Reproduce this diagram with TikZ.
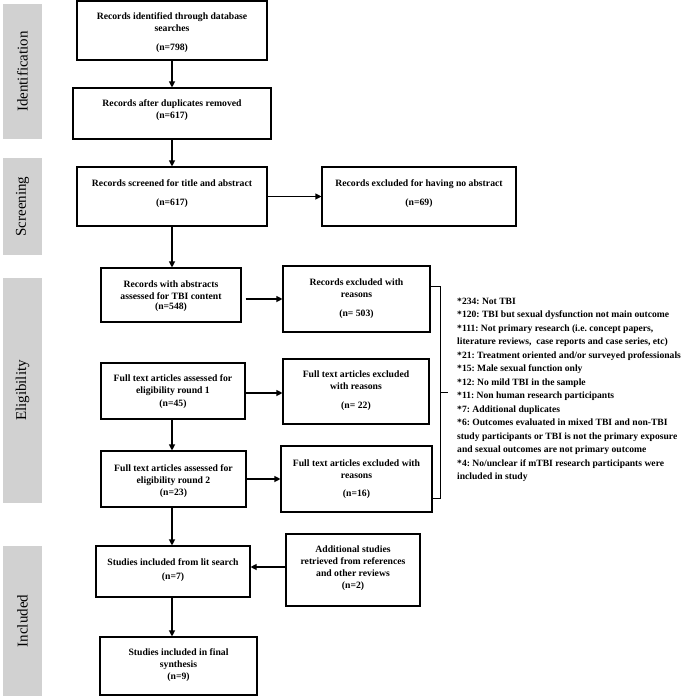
\documentclass[tikz,border=0pt]{standalone}
\usepackage{fontspec}
\setmainfont{Liberation Serif}
\usetikzlibrary{arrows.meta}
\frenchspacing
\begin{document}
\begin{tikzpicture}[x=1pt,y=-1pt,
  box/.style={draw=black,line width=1.1pt,rectangle,inner sep=0pt},
  txt/.style={font=\fontsize{9.7}{12}\selectfont\bfseries,align=center,anchor=north,inner sep=0pt},
  side/.style={fill=black!18,draw=none,inner sep=0pt},
  sidetxt/.style={font=\fontsize{15}{15}\selectfont,rotate=90,inner sep=0pt},
  arr/.style={line width=1.1pt,-{Triangle[length=6pt,width=6pt]}}]
\useasboundingbox (0,0) rectangle (685,696);
% side labels
\node[side,minimum width=39pt,minimum height=135pt] (sI) at (22.5,71.5) {};
\node[sidetxt] (lI) at (sI.center) {Identification};
\node[side,minimum width=39pt,minimum height=97pt] (sS) at (22.5,206.5) {};
\node[sidetxt] (lS) at (sS.center) {Screening};
\node[side,minimum width=39pt,minimum height=225pt] (sE) at (22.5,390.5) {};
\node[sidetxt] (lE) at (sE.center) {Eligibility};
\node[side,minimum width=39pt,minimum height=150pt] (sU) at (22.5,621) {};
\node[sidetxt] (lU) at (sU.center) {Included};
% boxes
\node[box,minimum width=190pt,minimum height=59pt] (b1) at (172,30.5) {};
\node[box,minimum width=198pt,minimum height=51pt] (b2) at (172,113.5) {};
\node[box,minimum width=190pt,minimum height=59pt] (b3) at (172,196.5) {};
\node[box,minimum width=194pt,minimum height=59pt] (bn) at (419,196.5) {};
\node[box,minimum width=140pt,minimum height=54pt] (b4) at (171,295) {};
\node[box,minimum width=147pt,minimum height=66pt] (b5) at (356.5,299) {};
\node[box,minimum width=144pt,minimum height=56pt] (b6) at (173,391) {};
\node[box,minimum width=146pt,minimum height=65pt] (b7) at (356,391.5) {};
\node[box,minimum width=145pt,minimum height=56pt] (b8) at (173.5,479) {};
\node[box,minimum width=151pt,minimum height=66pt] (b9) at (356.5,479) {};
\node[box,minimum width=154pt,minimum height=51pt] (b10) at (173,571.5) {};
\node[box,minimum width=134pt,minimum height=72pt] (b11) at (353,570) {};
\node[box,minimum width=157pt,minimum height=58pt] (b12) at (178.5,666) {};
% texts
\node[txt] (t1) at (172,12.5) {Records identified through database\\searches\\[7pt](n=798)};
\node[txt] (t2) at (172,99.5) {Records after duplicates removed\\(n=617)};
\node[txt] (t3) at (172,179.5) {Records screened for title and abstract\\[7pt](n=617)};
\node[txt] (tn) at (419,179.5) {Records excluded for having no abstract\\[7pt](n=69)};
\node[txt] (t4) at (171,280.5) {Records with abstracts\\assessed for TBI content\\[-1.5pt](n=548)};
\node[txt] (t5) at (356.5,278.5) {Records excluded with\\reasons\\[7pt](n= 503)};
\node[txt] (t6) at (173,374.5) {Full text articles assessed for\\eligibility round 1\\[0.5pt](n=45)};
\node[txt] (t7) at (356,370.5) {Full text articles excluded\\with reasons\\[7pt](n= 22)};
\node[txt] (t8) at (173.5,464.5) {Full text articles assessed for\\eligibility round 2\\(n=23)};
\node[txt] (t9) at (356.5,459.5) {Full text articles excluded with\\reasons\\[6pt](n=16)};
\node[txt] (t10) at (173,558.5) {Studies included from lit search\\[2pt](n=7)};
\node[txt] (t11) at (353,545.5) {Additional studies\\retrieved from references\\and other reviews\\(n=2)};
\node[txt] (t12) at (178.5,648.5) {Studies included in final\\synthesis\\(n=9)};
% reasons list
\node[font=\fontsize{9.6}{13.5}\selectfont\bfseries,align=left,anchor=north west,inner sep=0pt] (list) at (457,297.5) {%
*234: Not TBI\\
*120: TBI but sexual dysfunction not main outcome\\
*111: Not primary research (i.e. concept papers,\\
literature reviews,\ \ case reports and case series, etc)\\
*21: Treatment oriented and/or surveyed professionals\\
*15: Male sexual function only\\
*12: No mild TBI in the sample\\
*11: Non human research participants\\
*7: Additional duplicates\\
*6: Outcomes evaluated in mixed TBI and non-TBI\\
study participants or TBI is not the primary exposure\\
and sexual outcomes are not primary outcome\\
*4: No/unclear if mTBI research participants were\\
included in study};
% bracket
\coordinate (bt) at (440,286);
\coordinate (bb) at (440,498);
\coordinate (bm) at (440,392);
\coordinate (bmt) at (448,392);
\draw[line width=0.9pt] (b5.east |- bt) -- (bt) -- (bb) -- (b9.east |- bb);
\draw[line width=0.9pt] (bm) -- (bmt);
% arrows
\draw[arr] (b1.south) -- (b2.north);
\draw[arr] (b2.south) -- (b3.north);
\draw[arr] (b3.east |- bn.west) -- (bn.west);
\draw[arr] (b3.south) -- (b3.south |- b4.north);
\draw[arr] ([xshift=4pt]b4.east |- b5.west) -- (b5.west);
\draw[arr] (b6.east |- 0,393) -- (b7.west |- 0,393);
\draw[arr] (b6.south -| b3.south) -- (b3.south |- b8.north);
\draw[arr] (b8.east) -- (b9.west |- b8.east);
\draw[arr] (b8.south -| b3.south) -- (b3.south |- b10.north);
\draw[arr] (b11.west |- 0,567) -- (b10.east |- 0,567);
\draw[arr] (b10.south -| b3.south) -- (b3.south |- b12.north);
\end{tikzpicture}
\end{document}
